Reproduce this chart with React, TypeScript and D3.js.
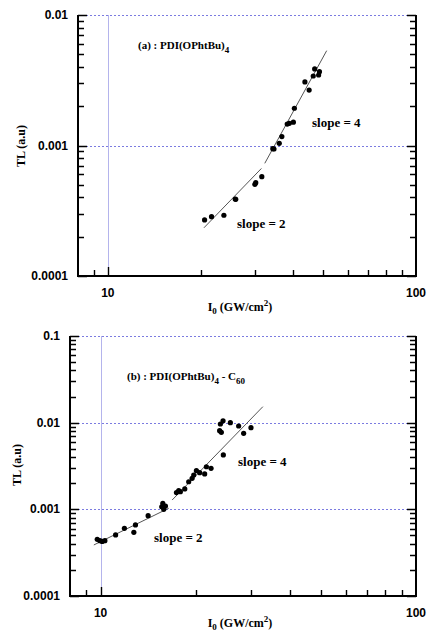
import React, { useEffect, useRef } from 'react'
import * as d3 from 'd3'

// panel (a): PDI(OPhtBu)4
const topX = [20.6, 21.7, 23.8, 25.9, 26.0, 30.0, 30.2, 31.6, 34.3, 34.6, 36.0, 36.7, 38.2, 38.8, 40.0, 40.3, 43.6, 45.0, 46.4, 46.9, 48.3, 48.6]
const topY = [2.69e-4, 2.85e-4, 2.92e-4, 3.89e-4, 3.87e-4, 5.04e-4, 5.19e-4, 5.77e-4, 9.45e-4, 9.4e-4, 1.04e-3, 1.17e-3, 1.46e-3, 1.48e-3, 1.51e-3, 1.93e-3, 3.07e-3, 2.66e-3, 3.41e-3, 3.86e-3, 3.47e-3, 3.68e-3]
const topFits: [number, number][][] = [
  [[20.5, 2.34e-4], [31.5, 6.67e-4]],
  [[32.3, 7.3e-4], [51.3, 5.33e-3]],
]

// panel (b): PDI(OPhtBu)4 - C60
const bottomX = [9.76, 9.95, 10.12, 10.32, 11.16, 11.9, 12.75, 12.9, 14.15, 15.63, 15.75, 15.86, 16.06, 17.4, 17.69, 17.91, 18.49, 19.03, 19.51, 19.74, 20.13, 20.62, 21.38, 21.65, 22.4, 23.85, 24.15, 23.98, 24.45, 24.5, 25.79, 27.4, 28.42, 29.98]
const bottomY = [4.51e-4, 4.35e-4, 4.26e-4, 4.35e-4, 5.06e-4, 6.04e-4, 5.43e-4, 6.6e-4, 8.45e-4, 1.07e-3, 1.17e-3, 1.0e-3, 1.09e-3, 1.56e-3, 1.64e-3, 1.6e-3, 1.72e-3, 2.08e-3, 2.28e-3, 2.49e-3, 2.79e-3, 2.65e-3, 2.56e-3, 3.1e-3, 2.97e-3, 8.08e-3, 7.74e-3, 9.65e-3, 1.05e-2, 4.24e-3, 1.0e-2, 9.15e-3, 7.54e-3, 8.75e-3]
const bottomFits: [number, number][][] = [
  [[9.52, 3.88e-4], [16.45, 1.03e-3]],
  [[16.86, 1.28e-3], [32.7, 1.53e-2]],
]

const xDomain = [8, 100]
const xTickLabels = ['10', '100']
const xMinorTicks = [9, 20, 30, 40, 50, 60, 70, 80, 90]
const topYLabels = ['0.0001', '0.001', '0.01']
const bottomYLabels = ['0.0001', '0.001', '0.01', '0.1']

const serif = '"Liberation Serif", "Times New Roman", serif'
const sans = '"Liberation Sans", Arial, sans-serif'
const gridColor = '#7b7be0'

type Panel = {
  box: { left: number; right: number; top: number; bottom: number }
  yDomain: [number, number]
  yLabels: string[]
  xs: number[]
  ys: number[]
  fits: [number, number][][]
  title: string[]
  titlePos: [number, number]
  slope2: [number, number]
  slope4: [number, number]
  labelY: number
  tlX: number
  xLabelY: number
  xTickY: number
}

const panels: Panel[] = [
  {
    box: { left: 78, right: 416, top: 15, bottom: 276 },
    yDomain: [1e-4, 1e-2],
    yLabels: topYLabels,
    xs: topX,
    ys: topY,
    fits: topFits,
    title: ['(a) : PDI(OPhtBu)', '4', ''],
    titlePos: [138, 49],
    slope2: [237, 228],
    slope4: [312, 127],
    labelY: 146,
    tlX: 25,
    xLabelY: 311,
    xTickY: 297,
  },
  {
    box: { left: 70, right: 416, top: 336, bottom: 596 },
    yDomain: [1e-4, 1e-1],
    yLabels: bottomYLabels,
    xs: bottomX,
    ys: bottomY,
    fits: bottomFits,
    title: ['(b) : PDI(OPhtBu)', '4', ' - C', '60'],
    titlePos: [127, 380],
    slope2: [154, 542],
    slope4: [238, 466],
    labelY: 465,
    tlX: 21,
    xLabelY: 627,
    xTickY: 617,
  },
]

function drawPanel(svg: d3.Selection<SVGSVGElement, unknown, null, undefined>, p: Panel) {
  const { left, right, top, bottom } = p.box
  const x = d3.scaleLog().domain(xDomain).range([left, right])
  const y = d3.scaleLog().domain(p.yDomain).range([bottom, top])
  const g = svg.append('g')
  const px = (v: number) => Math.round(v) + 0.5

  // grid
  const decades = p.yLabels.map((s) => +s)
  g.selectAll('line.hgrid')
    .data(decades.slice(1))
    .enter()
    .append('line')
    .attr('x1', left)
    .attr('x2', right)
    .attr('y1', (d) => px(y(d)))
    .attr('y2', (d) => px(y(d)))
    .attr('stroke', gridColor)
    .attr('stroke-width', 1)
    .attr('stroke-dasharray', '2,2')
  g.append('line')
    .attr('x1', px(x(10)))
    .attr('x2', px(x(10)))
    .attr('y1', top)
    .attr('y2', bottom)
    .attr('stroke', '#b4b4ec')
    .attr('stroke-width', 1)

  // ticks, pointing inward, drawn as one path
  const yMinor: number[] = []
  for (let i = 0; i < decades.length - 1; i++) {
    for (let k = 2; k <= 9; k++) yMinor.push(decades[i] * k)
  }
  let d = ''
  yMinor.forEach((v) => {
    d += `M${left},${px(y(v))}h6M${right},${px(y(v))}h-6`
  })
  decades.forEach((v) => {
    d += `M${left},${px(y(v))}h9M${right},${px(y(v))}h-9`
  })
  xMinorTicks.forEach((v) => {
    d += `M${px(x(v))},${bottom}v-6`
  })
  d += `M${px(x(10))},${bottom}v-9`
  g.append('path').attr('d', d).attr('stroke', '#000').attr('stroke-width', 1.4).attr('fill', 'none')

  // frame: left, bottom, right
  g.append('path')
    .attr('d', `M${left},${top}V${bottom}H${right}V${top}`)
    .attr('fill', 'none')
    .attr('stroke', '#000')
    .attr('stroke-width', 2)

  // tick labels
  g.selectAll(null)
    .data(p.yLabels)
    .enter()
    .append('text')
    .attr('x', left - 10)
    .attr('y', (v) => y(+v) + 4)
    .attr('text-anchor', 'end')
    .attr('font-family', sans)
    .attr('font-weight', 'bold')
    .attr('font-size', 12)
    .text((v) => v)
  g.selectAll(null)
    .data(xTickLabels)
    .enter()
    .append('text')
    .attr('x', (v) => x(+v))
    .attr('y', p.xTickY)
    .attr('text-anchor', 'middle')
    .attr('font-family', sans)
    .attr('font-weight', 'bold')
    .attr('font-size', 12)
    .text((v) => v)

  // fits
  const line = d3
    .line<[number, number]>()
    .x((v) => x(v[0]))
    .y((v) => y(v[1]))
  g.selectAll(null)
    .data(p.fits)
    .enter()
    .append('path')
    .attr('d', (v) => line(v))
    .attr('fill', 'none')
    .attr('stroke', '#555')
    .attr('stroke-width', 1)

  // points
  g.selectAll(null)
    .data(p.xs.map((v, i) => [v, p.ys[i]] as [number, number]))
    .enter()
    .append('circle')
    .attr('cx', (v) => x(v[0]))
    .attr('cy', (v) => y(v[1]))
    .attr('r', 2.6)
    .attr('fill', '#000')

  // annotation text
  const title = g
    .append('text')
    .attr('x', p.titlePos[0])
    .attr('y', p.titlePos[1])
    .attr('font-family', serif)
    .attr('font-weight', 'bold')
    .attr('font-size', 11)
  p.title.forEach((s, i) => {
    if (!s) return
    title
      .append('tspan')
      .attr('dy', i % 2 === 1 ? 4 : i > 0 ? -4 : 0)
      .attr('font-size', i % 2 === 1 ? 9 : 11)
      .text(s)
  })
  ;[
    ['slope = 2', p.slope2],
    ['slope = 4', p.slope4],
  ].forEach(([s, pos]) => {
    g.append('text')
      .attr('x', (pos as number[])[0])
      .attr('y', (pos as number[])[1])
      .attr('font-family', serif)
      .attr('font-weight', 'bold')
      .attr('font-size', 13)
      .text(s as string)
  })

  // axis titles
  g.append('text')
    .attr('transform', `translate(${p.tlX},${p.labelY}) rotate(-90)`)
    .attr('text-anchor', 'middle')
    .attr('font-family', serif)
    .attr('font-weight', 'bold')
    .attr('font-size', 12)
    .text('TL (a.u)')
  const xl = g
    .append('text')
    .attr('x', 240)
    .attr('y', p.xLabelY)
    .attr('text-anchor', 'middle')
    .attr('font-family', serif)
    .attr('font-weight', 'bold')
    .attr('font-size', 12)
  xl.append('tspan').text('I')
  xl.append('tspan').attr('dy', 3).attr('font-size', 9).text('0')
  xl.append('tspan').attr('dy', -3).text(' (GW/cm')
  xl.append('tspan').attr('dy', -5).attr('font-size', 9).text('2')
  xl.append('tspan').attr('dy', 5).text(')')
}

const App = () => {
  const ref = useRef<SVGSVGElement>(null)

  useEffect(() => {
    const svg = d3.select(ref.current as SVGSVGElement)
    svg.selectAll('*').remove()
    svg.append('rect').attr('width', 427).attr('height', 631).attr('fill', '#fff')
    panels.forEach((p) => drawPanel(svg, p))
  }, [])

  return <svg ref={ref} width={427} height={631} style={{ position: 'absolute', left: 0, top: 0 }}></svg>
}

export default App
